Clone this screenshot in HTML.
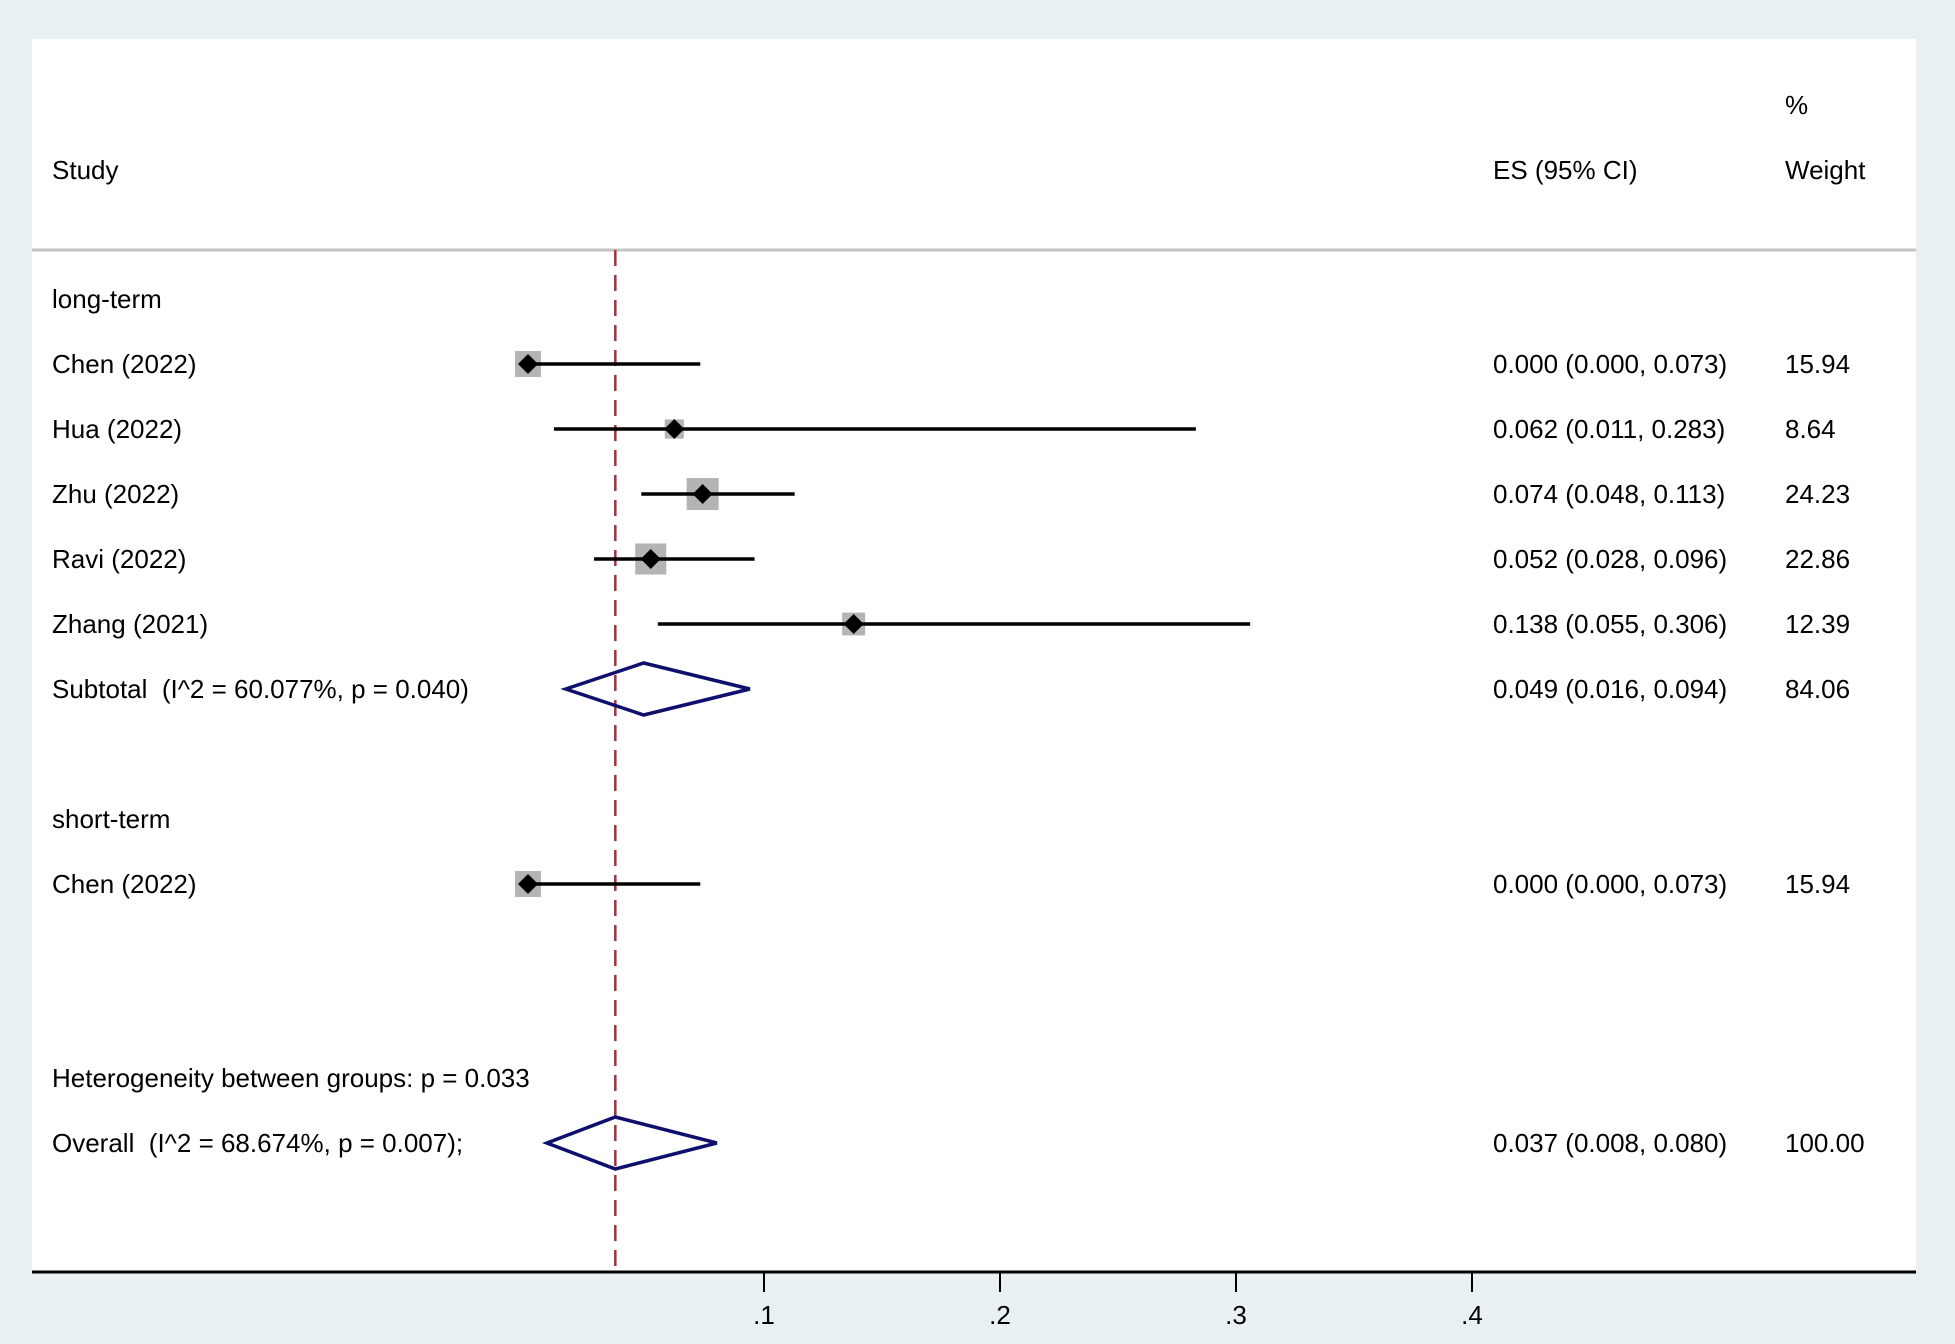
<!DOCTYPE html>
<html><head><meta charset="utf-8"><style>
html,body{margin:0;padding:0;background:#e8f0f3;}
svg{display:block;font-family:"Liberation Sans",Arial,sans-serif;}
text{font-size:26px;fill:#000;white-space:pre;}
</style></head><body>
<svg width="1955" height="1344" viewBox="0 0 1955 1344">
<rect x="0" y="0" width="1955" height="1344" fill="#e8f0f3"/>
<rect x="32" y="39" width="1884" height="1233" fill="#fff"/>
<line x1="32" y1="250" x2="1916" y2="250" stroke="#c4c4c4" stroke-width="3"/>
<text x="1785" y="114">%</text>
<text x="52" y="179">Study</text>
<text x="1493" y="179">ES (95% CI)</text>
<text x="1785" y="179">Weight</text>
<g id="marks"></g>
<line x1="32" y1="1272" x2="1916" y2="1272" stroke="#000" stroke-width="3"/>
<g id="ticks"></g>
</svg>
<script>
const studies = ["Chen (2022)","Hua (2022)","Zhu (2022)","Ravi (2022)","Zhang (2021)","Chen (2022)"];
const es = [0.000,0.062,0.074,0.052,0.138,0.000];
const lo = [0.000,0.011,0.048,0.028,0.055,0.000];
const hi = [0.073,0.283,0.113,0.096,0.306,0.073];
const weights = ["15.94","8.64","24.23","22.86","12.39","15.94"];
const studyRows = [1,2,3,4,5,9];
const pooledLabels = ["Subtotal  (I^2 = 60.077%, p = 0.040)","Overall  (I^2 = 68.674%, p = 0.007);"];
const pooledES = [0.049,0.037];
const pooledLo = [0.016,0.008];
const pooledHi = [0.094,0.080];
const pooledW = ["84.06","100.00"];
const pooledRows = [6,13];
const headings = ["long-term","short-term","Heterogeneity between groups: p = 0.033"];
const headingRows = [0,8,12];
const tickVals = [0.1,0.2,0.3,0.4];
const tickLabels = [".1",".2",".3",".4"];
const overallLine = 0.037;

const NS="http://www.w3.org/2000/svg";
const x = v => 528 + v*2360;
const rowY = r => r<=9 ? 299 + r*65 : 1078 + (r-12)*65;
function mk(tag, attrs, parent){const e=document.createElementNS(NS,tag);for(const k in attrs)e.setAttribute(k,attrs[k]);parent.appendChild(e);return e;}
const g=document.getElementById('marks');
function txt(s,xx,yy,name){const t=mk('text',{x:xx,y:yy+9},g);t.textContent=s;


return t;}
headings.forEach((h,i)=>txt(h,52,rowY(headingRows[i]),'group-heading'));
const dl=mk('line',{x1:x(overallLine),y1:250,x2:x(overallLine),y2:1272,stroke:'#a0323c','stroke-width':2.5,'stroke-dasharray':'16,9'},g);


studies.forEach((s,i)=>{
 const y=rowY(studyRows[i]);
 txt(s,52,y,'study-label');
 const f=(v=>v.toFixed(3));
 txt(f(es[i])+" ("+f(lo[i])+", "+f(hi[i])+")",1493,y,'es-ci-text');
 txt(weights[i],1785,y,'weight-text');
 const side=6.5*Math.sqrt(parseFloat(weights[i]));
 const b=mk('rect',{x:x(es[i])-side/2,y:y-side/2,width:side,height:side,fill:'#b4b4b4'},g);
 
 
 const l=mk('line',{x1:x(lo[i]),y1:y,x2:x(hi[i]),y2:y,stroke:'#000','stroke-width':3.5},g);
 
 
 const cx=x(es[i]),d=10;
 const p=mk('polygon',{points:`${cx-d},${y} ${cx},${y-d} ${cx+d},${y} ${cx},${y+d}`,fill:'#000'},g);
 
 
});
pooledLabels.forEach((s,i)=>{
 const y=rowY(pooledRows[i]);
 txt(s,52,y,'pooled-label');
 const f=(v=>v.toFixed(3));
 txt(f(pooledES[i])+" ("+f(pooledLo[i])+", "+f(pooledHi[i])+")",1493,y,'pooled-es-text');
 txt(pooledW[i],1785,y,'pooled-weight-text');
 const h=26;
 const p=mk('polygon',{points:`${x(pooledLo[i])},${y} ${x(pooledES[i])},${y-h} ${x(pooledHi[i])},${y} ${x(pooledES[i])},${y+h}`,fill:'none',stroke:'#0f0f6e','stroke-width':3.5},g);
 
 
});
const tg=document.getElementById('ticks');
tickVals.forEach((v,i)=>{
 const l=mk('line',{x1:x(v),y1:1272,x2:x(v),y2:1292,stroke:'#000','stroke-width':2},tg);
 
 
 const t=mk('text',{x:x(v),y:1324,'text-anchor':'middle'},tg);
 t.textContent=tickLabels[i];
 
 
});
</script>
</body></html>
